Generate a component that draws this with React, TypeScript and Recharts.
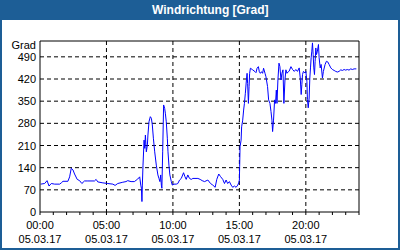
import React from 'react';
import { LineChart, Line, XAxis, YAxis, ReferenceLine, CartesianGrid } from 'recharts';

const title = 'Windrichtung [Grad]';
const unitLabel = 'Grad';
const dateLabel = '05.03.17';

const hours = [
  0.05, 0.35, 0.53, 0.68, 0.85, 1.1, 1.48, 1.6, 1.73, 2.1, 2.23, 2.35, 2.48, 2.6, 2.8, 2.98,
  3.15, 3.35, 3.6, 4.1, 4.22, 4.35, 4.73, 5.1, 5.48, 5.65, 5.85, 6.23, 6.47, 6.6, 6.85, 7.1,
  7.35, 7.5, 7.58, 7.63, 7.67, 7.7, 7.75, 7.83, 7.88, 7.93, 8.0, 8.08, 8.12, 8.2, 8.3, 8.38,
  8.45, 8.53, 8.63, 8.75, 8.87, 8.95, 9.02, 9.08, 9.13, 9.17, 9.23, 9.3, 9.38, 9.43, 9.5,
  9.58, 9.63, 9.7, 9.77, 9.88, 9.95, 10.08, 10.25, 10.37, 10.5, 10.63, 10.8, 10.9, 11.0,
  11.12, 11.25, 11.38, 11.5, 11.88, 12.05, 12.2, 12.38, 12.63, 12.83, 13.0, 13.18, 13.3,
  13.45, 13.58, 13.75, 13.88, 14.0, 14.12, 14.25, 14.38, 14.5, 14.63, 14.75, 14.88, 14.95,
  15.0, 15.02, 15.05, 15.13, 15.17, 15.25, 15.32, 15.38, 15.45, 15.53, 15.58, 15.62, 15.68,
  15.73, 15.77, 15.83, 16.0, 16.18, 16.25, 16.33, 16.43, 16.5, 16.58, 16.67, 16.75, 16.82,
  16.93, 17.0, 17.12, 17.2, 17.3, 17.38, 17.45, 17.5, 17.57, 17.65, 17.72, 17.78, 17.83,
  17.9, 17.98, 18.05, 18.13, 18.2, 18.28, 18.35, 18.43, 18.5, 18.58, 18.68, 18.75, 18.88,
  19.0, 19.13, 19.25, 19.37, 19.5, 19.58, 19.65, 19.7, 19.75, 19.82, 19.93, 20.0, 20.08,
  20.12, 20.18, 20.25, 20.3, 20.35, 20.4, 20.45, 20.5, 20.55, 20.6, 20.65, 20.7, 20.75,
  20.8, 20.87, 20.95, 21.0, 21.08, 21.15, 21.25, 21.32, 21.45, 21.55, 21.65, 21.75, 21.88,
  22.0, 22.13, 22.25, 22.37, 22.5, 22.63, 22.75, 22.88, 23.0, 23.12, 23.25, 23.38, 23.5,
  23.63, 23.8,
];

const values = [
  88, 90, 99, 82, 90, 88, 88, 92, 97, 97, 111, 138, 133, 120, 103, 99,
  90, 98, 98, 98, 103, 95, 92, 90, 88, 84, 90, 94, 96, 99, 96, 96,
  104, 111, 85, 75, 33, 85, 148, 227, 201, 243, 190, 212, 243, 285, 301, 296,
  275, 233, 190, 148, 117, 106, 96, 117, 85, 75, 190, 338, 327, 312, 285,
  233, 190, 148, 117, 96, 85, 88, 88, 90, 101, 106, 124, 112, 103,
  117, 106, 103, 106, 106, 103, 99, 96, 101, 90, 85, 78, 103,
  120, 112, 103, 90, 101, 90, 96, 85, 78, 82, 78, 85, 92,
  101, 143, 206, 227, 269, 290, 322, 343, 375, 417, 438, 406, 343,
  396, 438, 454, 449, 443, 440, 454, 459, 443, 438, 443, 438, 454,
  438, 427, 396, 354, 343, 317, 290, 254, 290, 354, 343, 385, 343,
  417, 470, 459, 417, 438, 449, 343, 417, 449, 438, 443, 445, 459,
  450, 444, 450, 444, 455, 423, 371, 402, 434, 444, 439, 444, 413,
  355, 329, 360, 423, 455, 487, 508, 534, 497, 455, 434, 476, 518,
  497, 508, 529, 487, 455, 466, 423, 444, 466, 476, 474, 466, 455,
  450, 447, 444, 442, 444, 449, 447, 450, 448, 450, 448, 452, 450,
  452, 452,
];

const xTickHours = [0, 1, 2, 3, 4, 5, 6, 7, 8, 9, 10, 11, 12, 13, 14, 15, 16, 17, 18, 19, 20, 21, 22, 23, 24];
const xLabelHours = [0, 5, 10, 15, 20];
const timeLabels = ['00:00', '05:00', '10:00', '15:00', '20:00'];
const gridHours = [5, 10, 15, 20];
const leftTicks = [0, 70, 140, 210, 280, 350, 420, 490];
const gridValues = [70, 140, 210, 280, 350, 420, 490];
const rightTicks = [0, 45, 90, 135, 180, 225, 270, 315, 360, 405, 450, 495, 540];
const compassLabels = ['N', 'NE', 'E', 'SE', 'S', 'SW', 'W', 'NW', 'N', 'NE', 'E', 'SE', 'S'];

const rows = hours.map((h, i) => ({ h, v: values[i] }));

const FONT = '"Liberation Sans", Arial, sans-serif';

const XTick = (props: any) => {
  const { x, y, payload } = props;
  const idx = xLabelHours.indexOf(payload.value);
  if (idx < 0) return <g />;
  return (
    <g>
      <text x={x} y={y + 12} textAnchor="middle" fontFamily={FONT} fontSize={11} fill="#000">
        {timeLabels[idx]}
      </text>
      <text x={x} y={y + 26} textAnchor="middle" fontFamily={FONT} fontSize={11} fill="#000">
        {dateLabel}
      </text>
    </g>
  );
};

const LeftTick = (props: any) => {
  const { y, payload } = props;
  return (
    <text x={36} y={y + 4} textAnchor="end" fontFamily={FONT} fontSize={11} fill="#000">
      {payload.value}
    </text>
  );
};

const RightTick = (props: any) => {
  const { y, payload } = props;
  const idx = rightTicks.indexOf(payload.value);
  return (
    <text x={364} y={y + 4} textAnchor="start" fontFamily={FONT} fontSize={11} fill="#000">
      {compassLabels[idx]}
    </text>
  );
};

export default function App() {
  return (
    <div style={{ position: 'absolute', left: 0, top: 0, width: 400, height: 250, background: '#fff' }}>
      <LineChart
        width={400}
        height={250}
        data={rows}
        margin={{ top: 41, right: 5, bottom: 8, left: 4 }}
      >
        <CartesianGrid
          yAxisId="left"
          stroke="#000"
          strokeDasharray="4 3"
          horizontalValues={gridValues}
          verticalValues={gridHours}
        />
        <XAxis
          dataKey="h"
          type="number"
          domain={[0, 24]}
          ticks={xTickHours}
          interval={0}
          height={30}
          tickSize={3}
          stroke="#000"
          tick={<XTick />}
        />
        <YAxis
          yAxisId="left"
          orientation="left"
          type="number"
          domain={[0, 540]}
          ticks={leftTicks}
          interval={0}
          width={36}
          tickLine={false}
          stroke="#000"
          tick={<LeftTick />}
        />
        <YAxis
          yAxisId="right"
          orientation="right"
          type="number"
          domain={[0, 540]}
          ticks={rightTicks}
          interval={0}
          width={36}
          tickSize={3}
          stroke="#000"
          tick={<RightTick />}
        />
        <ReferenceLine yAxisId="left" y={540} stroke="#000" />
        <Line
          yAxisId="left"
          dataKey="v"
          type="linear"
          stroke="#0000ff"
          strokeWidth={1}
          dot={false}
          isAnimationActive={false}
        />
      </LineChart>
      <div
        style={{
          position: 'absolute',
          left: 0,
          top: 0,
          width: 400,
          height: 20,
          background: '#1d5e96',
          color: '#fff',
          fontFamily: FONT,
          fontWeight: 'bold',
          fontSize: 12,
          lineHeight: '20px',
        }}
      >
        <span style={{ position: 'absolute', left: 152, top: 0, whiteSpace: 'nowrap' }}>{title}</span>
      </div>
      <div style={{ position: 'absolute', left: 0, top: 20, width: 2, height: 230, background: '#1d5e96' }} />
      <div style={{ position: 'absolute', right: 0, top: 20, width: 2, height: 230, background: '#1d5e96' }} />
      <div style={{ position: 'absolute', left: 0, bottom: 0, width: 400, height: 2, background: '#1d5e96' }} />
      <div
        style={{
          position: 'absolute',
          left: 0,
          top: 39,
          width: 36,
          textAlign: 'right',
          fontFamily: FONT,
          fontSize: 11,
          color: '#000',
        }}
      >
        {unitLabel}
      </div>
    </div>
  );
}
